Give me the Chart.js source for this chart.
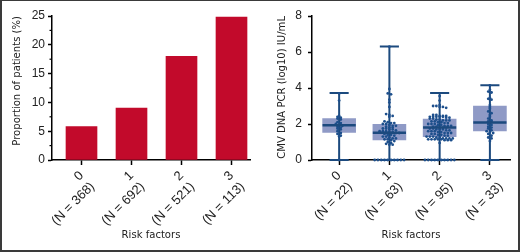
<!DOCTYPE html>
<html><head><meta charset="utf-8">
<script src="https://cdn.jsdelivr.net/npm/chart.js@4"></script>
<style>
html,body{margin:0;padding:0;background:#fff;}
#wrap{position:relative;width:520px;height:252px;overflow:hidden;background:#fff;}
#c1{position:absolute;left:0;top:0;}
#c2{position:absolute;left:260px;top:0;}
#frame{position:absolute;left:0;top:0;width:520px;height:252px;box-sizing:border-box;border:2px solid #3a3a3a;border-top-width:1px;pointer-events:none;}
</style></head>
<body><div id="wrap"><canvas id="c1" width="260" height="252"></canvas><canvas id="c2" width="260" height="252"></canvas><div id="frame"></div></div>
<script>
// ---- data ----
const riskFactors = ['0', '1', '2', '3'];
const barN = [368, 692, 521, 113];
const proportion = [5.8, 9.0, 18.0, 24.8];
const yTicksLeft = [0, 5, 10, 15, 20, 25];
const yMinorLeft = [2.5, 7.5, 12.5, 17.5, 22.5];

const pcrN = [22, 63, 95, 33];
const boxMax = [3.72, 6.3, 3.72, 4.15];
const boxQ3 = [2.3, 1.98, 2.28, 3.0];
const boxMedian = [1.93, 1.52, 1.8, 2.08];
const boxQ1 = [1.53, 1.11, 1.3, 1.61];
const boxMin = [0, 0, 0, 0];
const yTicksRight = [0, 2, 4, 6, 8];

const pcr0 = [3.7, 3.3, 2.45, 2.4, 2.35, 2.3, 2.25, 2.1, 2.05, 2.0, 1.95, 1.9, 1.85, 1.8, 1.75, 1.7, 1.6, 1.5, 1.45, 1.35, 1.3, 0];
const pcr1 = [6.3, 3.95, 3.7, 3.65, 3.35, 3.2, 2.95, 2.55, 2.5, 2.45, 2.4, 2.15, 2.1, 2.05, 2.05, 2.0, 2.0,
  1.95, 1.9, 1.9, 1.85, 1.8, 1.8, 1.75, 1.75, 1.7, 1.7, 1.65, 1.6, 1.6, 1.6, 1.55, 1.55, 1.5, 1.5, 1.45, 1.4, 1.4, 1.35,
  1.3, 1.3, 1.25, 1.2, 1.2, 1.15, 1.15, 1.1, 1.05, 1.0, 0.95, 0.9, 0.85, 0.85,
  0, 0, 0, 0, 0, 0, 0, 0, 0, 0];
const pcr2 = [3.55, 3.3, 3.05, 3.0, 3.0, 2.95, 2.95, 2.9,
  2.5, 2.5, 2.45, 2.45, 2.45, 2.4, 2.4, 2.4, 2.4, 2.4, 2.35, 2.35,
  2.3, 2.3, 2.25, 2.25, 2.2, 2.2, 2.2, 2.15, 2.15, 2.1, 2.1, 2.05, 2.05, 2.0, 2.0, 2.0,
  1.95, 1.95, 1.9, 1.9, 1.9, 1.85, 1.85, 1.8, 1.8, 1.8, 1.75, 1.75, 1.7, 1.7, 1.7, 1.65, 1.65, 1.6, 1.6, 1.6,
  1.55, 1.55, 1.5, 1.5, 1.5, 1.45, 1.45, 1.4, 1.4, 1.35, 1.35, 1.3, 1.3, 1.3, 1.25, 1.25, 1.2, 1.2, 1.2, 1.2,
  1.15, 1.15, 1.15, 1.15, 1.15, 1.1, 1.1, 1.1, 0.95,
  0, 0, 0, 0, 0, 0, 0, 0, 0, 0];
const pcr3 = [4.15, 3.9, 3.8, 3.75, 3.45, 3.4, 3.35, 3.05, 2.95, 2.85, 2.7, 2.6, 2.5, 2.4, 2.3, 2.2, 2.15, 2.1, 2.0, 1.95,
  1.85, 1.8, 1.75, 1.65, 1.6, 1.55, 1.5, 1.45, 1.35, 1.25, 1.2, 1.05, 0];
const pcrGroups = [pcr0, pcr1, pcr2, pcr3];

// ---- styles ----
Chart.defaults.font.family = "'Liberation Sans', Arial, sans-serif";
Chart.defaults.color = '#222';
const BAR_RED = '#c20a2b';
const BOX_FILL = '#8f9ac6';
const LINE_BLUE = '#1c4a7e';
const DOT_BLUE = '#1d4f8c';

// pick a narrow face for axis titles and size it to the reference title length
const titleFont = (function () {
  const ctx = document.createElement('canvas').getContext('2d');
  const sample = 'Proportion of patients (%)';
  const target = 130;
  const cands = ["'Liberation Sans Narrow'", "'Arial Narrow'", "'DejaVu Sans Condensed'", "'Liberation Sans'"];
  for (const fam of cands) {
    ctx.font = '13px ' + fam + ', monospace';
    const a = ctx.measureText(sample).width;
    ctx.font = '13px ' + fam + ', serif';
    const b = ctx.measureText(sample).width;
    if (Math.abs(a - b) < 0.01) {
      let size = 13 * target / a;
      size = Math.max(10.5, Math.min(14, size));
      return { family: fam + ', sans-serif', size: Math.round(size * 10) / 10 };
    }
  }
  return { family: 'sans-serif', size: 11.5 };
})();

function swarm(values, idx, binSize, step) {
  const bins = new Map();
  values.forEach(v => {
    const k = Math.round(v / binSize);
    if (!bins.has(k)) bins.set(k, []);
    bins.get(k).push(v);
  });
  const pts = [];
  bins.forEach(arr => {
    const n = arr.length;
    arr.forEach((v, j) => pts.push({ x: idx + (j - (n - 1) / 2) * step, y: v }));
  });
  return pts;
}

function xAxis(min, max, nArr, titlePad) {
  return {
    type: 'linear', min: min, max: max, offset: false,
    afterBuildTicks: s => { s.ticks = riskFactors.map((_, i) => ({ value: i })); },
    afterFit: s => { s.height = 92; },
    ticks: {
      autoSkip: false, minRotation: 45, maxRotation: 45, padding: 3,
      font: { size: 13 }, color: '#222',
      callback: v => { const i = Math.round(v); return [riskFactors[i], '(N = ' + nArr[i] + ')']; }
    },
    grid: { offset: false, drawOnChartArea: false, drawTicks: true, tickLength: 5, tickColor: '#000', tickWidth: 1.5 },
    border: { display: true, color: '#000', width: 1.5 },
    title: { display: true, text: 'Risk factors', font: titleFont, color: '#222', padding: { top: 0, bottom: titlePad } }
  };
}

function yAxis(max, ticksArr, title, titlePad, labelPad) {
  return {
    type: 'linear', min: 0, max: max,
    afterBuildTicks: s => { s.ticks = ticksArr.map(v => ({ value: v })); },
    afterFit: s => { s.width = 52; },
    ticks: { font: { size: 12 }, color: '#222', padding: labelPad },
    grid: { drawOnChartArea: false, drawTicks: true, tickLength: 4, tickColor: '#000', tickWidth: 1.5 },
    border: { display: true, color: '#000', width: 1.5 },
    title: { display: true, text: title, align: 'end', font: titleFont, color: '#222', padding: { top: titlePad, bottom: 0 } }
  };
}

const minorTicks = {
  id: 'minorTicks',
  afterDraw(chart) {
    const y = chart.scales.y, ctx = chart.ctx;
    ctx.save();
    ctx.strokeStyle = '#000'; ctx.lineWidth = 1.2;
    yMinorLeft.forEach(v => {
      const p = y.getPixelForValue(v);
      ctx.beginPath(); ctx.moveTo(y.right - 2.5, p); ctx.lineTo(y.right, p); ctx.stroke();
    });
    ctx.restore();
  }
};

// ---- left chart ----
new Chart(document.getElementById('c1'), {
  type: 'bar',
  data: {
    datasets: [{
      data: proportion.map((v, i) => ({ x: i, y: v })),
      backgroundColor: BAR_RED, borderWidth: 0, barThickness: 31
    }]
  },
  options: {
    responsive: false, animation: false,
    layout: { padding: { top: 16, right: 10, bottom: 0, left: 0 } },
    plugins: { legend: { display: false }, tooltip: { enabled: false } },
    scales: {
      x: xAxis(-0.59, 3.37, barN, 10),
      y: yAxis(25, yTicksLeft, 'Proportion of patients (%)', 10, 3)
    }
  },
  plugins: [minorTicks]
});

// ---- right chart ----
const whiskers = [];
const medians = [];
riskFactors.forEach((_, i) => {
  whiskers.push({ x: i, y: boxMin[i] }, { x: i, y: boxMax[i] }, { x: i, y: null },
    { x: i - 0.19, y: boxMax[i] }, { x: i + 0.19, y: boxMax[i] }, { x: i, y: null },
    { x: i - 0.19, y: boxMin[i] }, { x: i + 0.19, y: boxMin[i] }, { x: i, y: null });
  medians.push({ x: i - 0.33, y: boxMedian[i] }, { x: i + 0.33, y: boxMedian[i] }, { x: i, y: null });
});
const dots = [];
pcrGroups.forEach((g, i) => dots.push(...swarm(g, i, 0.14, 0.065)));

new Chart(document.getElementById('c2'), {
  type: 'bar',
  data: {
    datasets: [
      { type: 'bar', order: 4, data: riskFactors.map((_, i) => ({ x: i, y: [boxQ1[i], boxQ3[i]] })),
        backgroundColor: BOX_FILL, borderWidth: 0, barThickness: 33 },
      { type: 'line', order: 3, data: whiskers, borderColor: LINE_BLUE, borderWidth: 2, pointRadius: 0,
        spanGaps: false, fill: false, clip: false, tension: 0 },
      { type: 'scatter', order: 2, data: dots, pointRadius: 1.4, pointBackgroundColor: DOT_BLUE,
        pointBorderWidth: 0, borderWidth: 0, clip: false },
      { type: 'line', order: 1, data: medians, borderColor: LINE_BLUE, borderWidth: 2.5, pointRadius: 0,
        spanGaps: false, fill: false, clip: false, tension: 0 }
    ]
  },
  options: {
    responsive: false, animation: false,
    layout: { padding: { top: 16, right: 10, bottom: 0, left: 0 } },
    plugins: { legend: { display: false }, tooltip: { enabled: false } },
    scales: {
      x: xAxis(-0.54, 3.4, pcrN, 10),
      y: yAxis(8, yTicksRight, 'CMV DNA PCR (log10) IU/mL', 15, 6)
    }
  }
});
</script>
</body></html>
